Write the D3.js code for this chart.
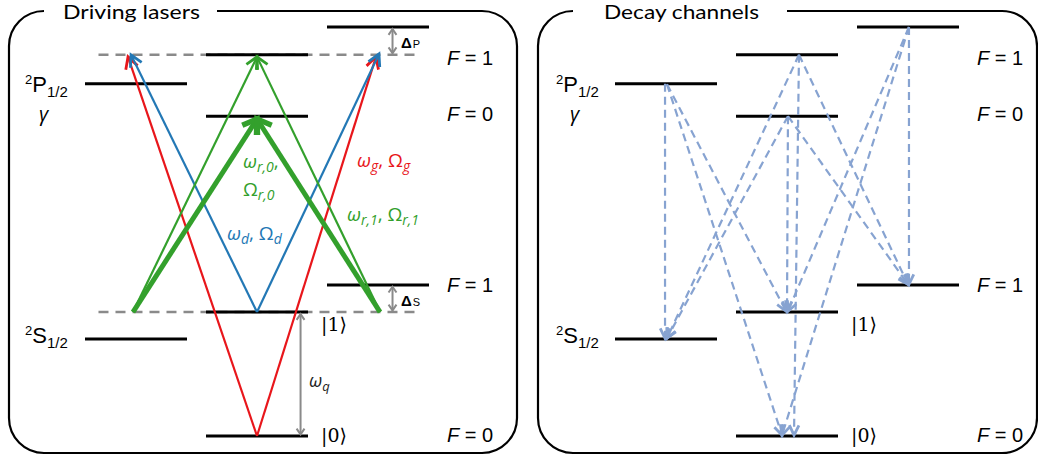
<!DOCTYPE html>
<html>
<head>
<meta charset="utf-8">
<script src="https://cdn.jsdelivr.net/npm/d3@7"></script>
<style>
  html, body { margin: 0; padding: 0; background: #fff; }
  svg { display: block; }
  .sans { font-family: "Liberation Sans", Arial, sans-serif; }
  .title { font-family: Lato, "Open Sans", sans-serif; }
  .greek { font-family: "Open Sans", "Noto Sans", sans-serif; }
  .ket { font-family: "DejaVu Serif", serif; }
</style>
</head>
<body>
<svg id="fig" width="1038" height="459"></svg>
<script>
// ---------- data ----------
// Energy levels: column within a panel and energy (arbitrary units, |0⟩ = 0, top level = 100)
const levelIds      = ["g0", "s", "g1", "sF1", "pF0", "p", "pF1", "top"];
const levelCols     = [1,    0,   1,    2,     1,     0,   1,     2];
const levelEnergies = [0,    23.7, 30.3, 36.9, 78.2,  86.1, 93.2, 100];

// Virtual (detuned) levels of the driving lasers
const virtualEnergies = [93.2, 30.3];
const virtualSpan = [-0.31, 2.33];

// Driving laser transitions: [column, energy] start and end
const lasers = [
  { beam: "g",  from: [1, 0],         to: [-0.066, 92.7], strong: false },
  { beam: "g",  from: [1, 0],         to: [1.983, 92.7],  strong: false },
  { beam: "d",  from: [1, 30.3],      to: [-0.041, 93.2], strong: false },
  { beam: "d",  from: [1, 30.3],      to: [2.008, 93.4],  strong: false },
  { beam: "r",  from: [-0.025, 30.3], to: [1, 92.7],      strong: false },
  { beam: "r",  from: [2.017, 30.3],  to: [1, 92.7],      strong: false },
  { beam: "r",  from: [-0.025, 30.3], to: [1, 77.5],      strong: true },
  { beam: "r",  from: [2.017, 30.3],  to: [1, 77.5],      strong: true }
];

// Spontaneous decay channels: [column, energy] start and end
const decays = [
  { from: [-0.008, 86.1], to: [-0.008, 23.9] },
  { from: [0.008, 86.0],  to: [0.992, 30.5] },
  { from: [0.008, 86.0],  to: [0.959, 0.2] },
  { from: [1.099, 93.2],  to: [0.008, 23.9] },
  { from: [1.099, 93.2],  to: [1.058, 0.2] },
  { from: [1.099, 93.2],  to: [2.0, 37.1] },
  { from: [1.008, 78.2],  to: [0.008, 23.9] },
  { from: [1.008, 78.2],  to: [1.0, 30.5] },
  { from: [1.008, 78.2],  to: [2.0, 37.1] },
  { from: [2.008, 100],   to: [2.008, 37.1] },
  { from: [2.008, 100],   to: [1.008, 30.5] },
  { from: [2.008, 100],   to: [0.959, 0.2] }
];

// Hyperfine quantum numbers shown at the right of each panel
const fLabels = ["F = 1", "F = 0", "F = 1", "F = 0"];
const fLabelLevels = ["pF1", "pF0", "sF1", "g0"];

// Splittings marked with double arrows: column, energy low/high, label
const splittings = [
  { col: 2.12, lo: 93.6, hi: 99.5, label: "Δ", sub: "P" },
  { col: 2.12, lo: 30.7, hi: 36.5, label: "Δ", sub: "S" },
  { col: 1.36, lo: 0.4,  hi: 29.8, label: "ω", sub: "q" }
];

const panelTitles = ["Driving lasers", "Decay channels"];

// ---------- layout ----------
const svg = d3.select("#fig");
const y = d3.scaleLinear().domain([0, 100]).range([436, 27]);
const xs = [
  d3.scaleLinear().domain([0, 2]).range([136, 378]),
  d3.scaleLinear().domain([0, 2]).range([666, 908])
];
const halfW = 51;
const boxes = [
  { x0: 9, x1: 517, gapEnd: 217, titleX: 63, titleW: 137 },
  { x0: 538, x1: 1037, gapEnd: 787, titleX: 604, titleW: 155 }
];
const boxTop = 11, boxBot = 453, rad = 35;
const colors = { g: "#e8161b", d: "#2378b5", r: "#33a02c", decay: "#87a3d1", gray: "#8a8a8a" };
const fLabelDy = [10, 5, 7, 6];

// Open chevron arrowhead at (x2,y2) pointing along (x1,y1)->(x2,y2)
function chevron(x1, y1, x2, y2, len, ang) {
  const a = Math.atan2(y2 - y1, x2 - x1);
  const p1 = [x2 - len * Math.cos(a - ang), y2 - len * Math.sin(a - ang)];
  const p2 = [x2 - len * Math.cos(a + ang), y2 - len * Math.sin(a + ang)];
  return `M${p1[0]},${p1[1]}L${x2},${y2}L${p2[0]},${p2[1]}`;
}

// ---------- panel frames ----------
boxes.forEach((b, i) => {
  const p = d3.path();
  p.moveTo(b.gapEnd, boxTop);
  p.lineTo(b.x1 - rad, boxTop);
  p.arcTo(b.x1, boxTop, b.x1, boxTop + rad, rad);
  p.lineTo(b.x1, boxBot - rad);
  p.arcTo(b.x1, boxBot, b.x1 - rad, boxBot, rad);
  p.lineTo(b.x0 + rad, boxBot);
  p.arcTo(b.x0, boxBot, b.x0, boxBot - rad, rad);
  p.lineTo(b.x0, boxTop + rad);
  p.arcTo(b.x0, boxTop, b.x0 + rad, boxTop, rad);
  svg.append("path").attr("d", p.toString()).attr("fill", "none")
    .attr("stroke", "#000").attr("stroke-width", 2.2);
  svg.append("text").attr("class", "title")
    .attr("x", b.titleX).attr("y", 19)
    .attr("font-size", 20)
    .attr("textLength", b.titleW).attr("lengthAdjust", "spacingAndGlyphs")
    .text(panelTitles[i]);
});

const levels = levelIds.map((id, i) => ({ id, col: levelCols[i], e: levelEnergies[i] }));
const levelById = Object.fromEntries(levels.map(l => [l.id, l]));

// ---------- left panel: virtual levels ----------
const xL = xs[0];
svg.append("g").selectAll("line").data(virtualEnergies).join("line")
  .attr("x1", xL(virtualSpan[0])).attr("x2", xL(virtualSpan[1]))
  .attr("y1", d => y(d)).attr("y2", d => y(d))
  .attr("stroke", colors.gray).attr("stroke-width", 2.4)
  .attr("stroke-dasharray", "10,7");

// ---------- energy levels in both panels ----------
xs.forEach(x => {
  svg.append("g").selectAll("line").data(levels).join("line")
    .attr("x1", d => x(d.col) - halfW).attr("x2", d => x(d.col) + halfW)
    .attr("y1", d => y(d.e)).attr("y2", d => y(d.e))
    .attr("stroke", "#000").attr("stroke-width", 3);
});

// ---------- driving lasers ----------
const gL = svg.append("g").attr("fill", "none");
lasers.forEach(l => {
  const x1 = xL(l.from[0]), y1 = y(l.from[1]), x2 = xL(l.to[0]), y2 = y(l.to[1]);
  const w = l.strong ? 5 : 2.2;
  gL.append("line").attr("x1", x1).attr("y1", y1).attr("x2", x2).attr("y2", y2)
    .attr("stroke", colors[l.beam]).attr("stroke-width", w);
  gL.append("path").attr("d", chevron(x1, y1, x2, y2, l.strong ? 16 : 13, l.strong ? 0.6 : 0.5))
    .attr("stroke", colors[l.beam]).attr("stroke-width", l.strong ? 5.5 : 2.8)
    .attr("stroke-linejoin", "miter");
});

// ---------- decay channels ----------
const xR = xs[1];
const gD = svg.append("g").attr("fill", "none").attr("stroke", colors.decay);
decays.forEach(d => {
  const x1 = xR(d.from[0]), y1 = y(d.from[1]), x2 = xR(d.to[0]), y2 = y(d.to[1]);
  gD.append("line").attr("x1", x1).attr("y1", y1).attr("x2", x2).attr("y2", y2)
    .attr("stroke-width", 2.2).attr("stroke-dasharray", "8,5");
  gD.append("path").attr("d", chevron(x1, y1, x2, y2, 11, 0.45))
    .attr("stroke-width", 2.8);
});

// ---------- splitting arrows ----------
splittings.forEach(s => {
  const xx = xL(s.col), ya = y(s.hi), yb = y(s.lo);
  svg.append("line").attr("x1", xx).attr("x2", xx).attr("y1", ya).attr("y2", yb)
    .attr("stroke", colors.gray).attr("stroke-width", 2);
  svg.append("path").attr("d", chevron(xx, yb, xx, ya, 7, 0.6))
    .attr("fill", "none").attr("stroke", colors.gray).attr("stroke-width", 2);
  svg.append("path").attr("d", chevron(xx, ya, xx, yb, 7, 0.6))
    .attr("fill", "none").attr("stroke", colors.gray).attr("stroke-width", 2);
});
// Δ labels
[[0, 48], [1, 306]].forEach(([i, by]) => {
  const t = svg.append("text").attr("class", "sans").attr("x", 401).attr("y", by);
  t.append("tspan").attr("font-size", 15).attr("font-weight", "bold").text(splittings[i].label);
  t.append("tspan").attr("font-size", 11).attr("dx", 1).text(splittings[i].sub);
});
{
  const t = svg.append("text").attr("class", "greek").attr("x", 309).attr("y", 387).attr("fill", "#222");
  t.append("tspan").attr("font-size", 18).attr("font-style", "italic").text(splittings[2].label);
  t.append("tspan").attr("font-size", 13).attr("font-style", "italic").attr("dy", 4).text(splittings[2].sub);
}

// ---------- laser labels ----------
function beamLabel(x, yb, color, parts) {
  const t = svg.append("text").attr("class", "greek").attr("x", x).attr("y", yb)
    .attr("fill", color).attr("font-size", 19);
  let shift = 0;
  parts.forEach(([txt, kind]) => {
    const sp = t.append("tspan").text(txt);
    if (kind === "sub") {
      sp.attr("font-size", 14).attr("font-style", "italic").attr("dy", 4 - shift); shift = 4;
    } else {
      sp.attr("dy", -shift); shift = 0;
      if (kind === "it") sp.attr("font-style", "italic");
    }
  });
}
beamLabel(243, 168, colors.r, [["ω", "it"], ["r,0", "sub"], [",", ""]]);
beamLabel(243, 196, colors.r, [["Ω", ""], ["r,0", "sub"]]);
beamLabel(357, 167, colors.g, [["ω", "it"], ["g", "sub"], [", Ω", ""], ["g", "sub"]]);
beamLabel(347, 221, colors.r, [["ω", "it"], ["r,1", "sub"], [", Ω", ""], ["r,1", "sub"]]);
beamLabel(227, 240, colors.d, [["ω", "it"], ["d", "sub"], [", Ω", ""], ["d", "sub"]]);

// ---------- state labels ----------
const fx = [447, 977];
fx.forEach(x0 => {
  fLabels.forEach((lab, i) => {
    const yy = y(levelById[fLabelLevels[i]].e);
    const t = svg.append("text").attr("class", "sans").attr("x", x0).attr("y", yy + fLabelDy[i]).attr("font-size", 20);
    t.append("tspan").attr("font-style", "italic").text("F");
    t.append("tspan").text(lab.slice(1));
  });
});

const termX = [25, 556];
termX.forEach(x0 => {
  [["P", y(levelById.p.e) + 8], ["S", y(levelById.s.e) + 4]].forEach(([L, yb]) => {
    const t = svg.append("text").attr("class", "sans").attr("x", x0).attr("y", yb).attr("font-size", 22);
    t.append("tspan").attr("font-size", 13).attr("dy", -8).text("2");
    t.append("tspan").attr("dy", 8).text(L);
    t.append("tspan").attr("font-size", 15).attr("dy", 5).text("1/2");
  });
  svg.append("text").attr("class", "greek").attr("x", x0 + 14).attr("y", y(levelById.p.e) + 37)
    .attr("font-size", 20).attr("font-style", "italic").text("γ");
});

const ketX = [321, 851];
ketX.forEach(x0 => {
  svg.append("text").attr("class", "ket").attr("x", x0).attr("y", y(levelById.g1.e) + 19)
    .attr("font-size", 19).text("|1⟩");
  svg.append("text").attr("class", "ket").attr("x", x0).attr("y", y(levelById.g0.e) + 6)
    .attr("font-size", 19).text("|0⟩");
});
</script>
</body>
</html>
